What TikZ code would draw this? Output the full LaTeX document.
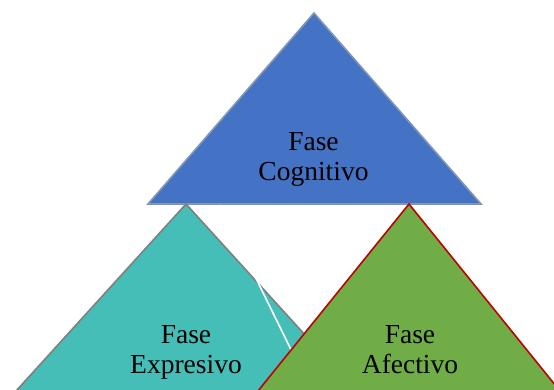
\documentclass[tikz,border=0pt]{standalone}
\usepackage{fontspec}
\setmainfont{Liberation Serif}
\definecolor{cogfill}{HTML}{4472C4}
\definecolor{cogline}{HTML}{7F96B8}
\definecolor{expfill}{HTML}{45BEB8}
\definecolor{expline}{HTML}{808080}
\definecolor{affill}{HTML}{70AD47}
\definecolor{afline}{HTML}{C00000}
\tikzset{
  lbl/.style={align=center, anchor=north, inner sep=0pt, text=black,
    font=\fontsize{27.5}{30}\selectfont},
  tri/.style={line width=1.6pt, line join=miter}
}
\begin{document}
\begin{tikzpicture}[x=1pt,y=-1pt]
\useasboundingbox (0,0) rectangle (554,389);
% top triangle
\draw[tri, draw=cogline, fill=cogfill] (314,13) -- (481,204) -- (148,204) -- cycle;
\coordinate (wl1) at (217,205.5);
\coordinate (wl2) at (480,205.5);
\draw[white, line width=1.2pt] (wl1) -- (wl2);
% left triangle
\draw[tri, draw=expline, fill=expfill] (186,204) -- (356,391) -- (16,391) -- cycle;
\coordinate (wd1) at (220,205);
\coordinate (wd2) at (300,368);
\draw[white, line width=1.6pt] (wd1) -- (wd2);
% right triangle
\draw[tri, draw=afline, fill=affill] (409,204) -- (560,391) -- (258,391) -- cycle;
% labels
\node[lbl] (cog) at (313.5,132) {Fase\\Cognitivo};
\node[lbl] (exp) at (186,325) {Fase\\Expresivo};
\node[lbl] (afe) at (410,325) {Fase\\Afectivo};
\end{tikzpicture}
\end{document}
